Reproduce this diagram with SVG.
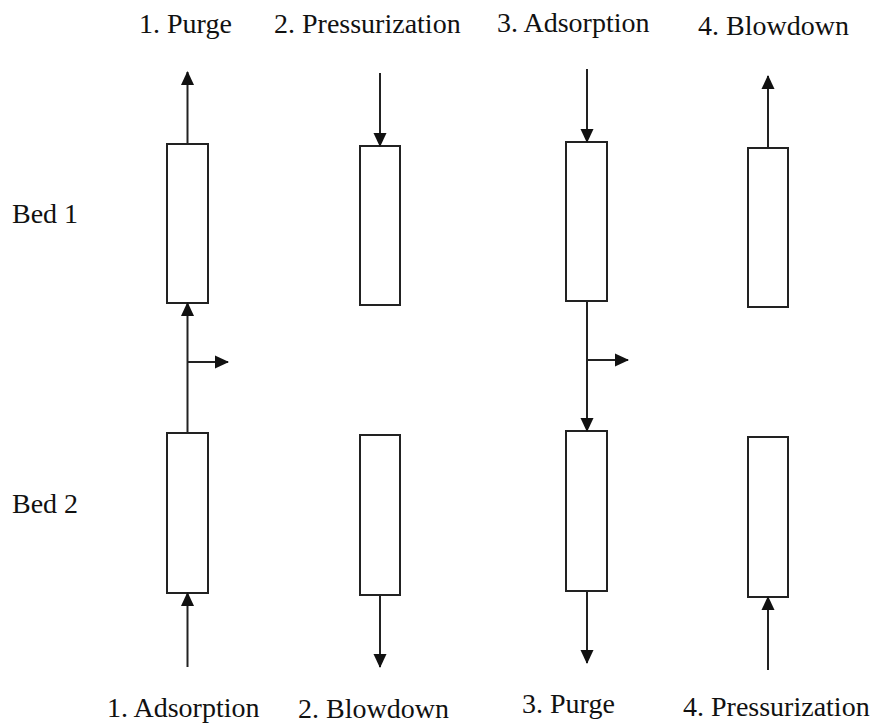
<svg xmlns="http://www.w3.org/2000/svg" width="874" height="723" viewBox="0 0 874 723">
<style>
.bed{fill:#fff;stroke:#222;stroke-width:2}
.ln{stroke:#222;stroke-width:2;fill:none;marker-end:url(#ah)}
text{font-family:"Liberation Serif","Times New Roman",serif;font-size:28px;fill:#111}
</style>
<defs>
<marker id="ah" markerUnits="userSpaceOnUse" markerWidth="14" markerHeight="14" viewBox="0 0 14 14" refX="13" refY="7" orient="auto">
<path d="M0,0.5 L14,7 L0,13.5 Z" fill="#111"/>
</marker>
</defs>
<rect width="874" height="723" fill="#fff"/>
<g id="labels">
<text x="139" y="33">1. Purge</text>
<text x="274" y="33">2. Pressurization</text>
<text x="497" y="32">3. Adsorption</text>
<text x="698" y="35">4. Blowdown</text>
<text x="107" y="717">1. Adsorption</text>
<text x="298" y="718">2. Blowdown</text>
<text x="522" y="713">3. Purge</text>
<text x="683" y="716">4. Pressurization</text>
<text x="12" y="223">Bed 1</text>
<text x="12" y="513">Bed 2</text>
</g>
<g id="bed1-1"><rect class="bed" x="167" y="144" width="41" height="159"/></g>
<g id="bed1-2"><rect class="bed" x="360" y="146" width="40" height="159"/></g>
<g id="bed1-3"><rect class="bed" x="566" y="142" width="41" height="159"/></g>
<g id="bed1-4"><rect class="bed" x="748" y="148" width="40" height="159"/></g>
<g id="bed2-1"><rect class="bed" x="167" y="433" width="41" height="160"/></g>
<g id="bed2-2"><rect class="bed" x="360" y="435" width="40" height="160"/></g>
<g id="bed2-3"><rect class="bed" x="566" y="431" width="41" height="160"/></g>
<g id="bed2-4"><rect class="bed" x="748" y="437" width="40" height="160"/></g>
<g id="connectors">
<line class="ln" x1="187.5" y1="144" x2="187.5" y2="72"/>
<line class="ln" x1="380" y1="73" x2="380" y2="146"/>
<line class="ln" x1="587" y1="69" x2="587" y2="142"/>
<line class="ln" x1="768" y1="148" x2="768" y2="76"/>
<line class="ln" x1="187.5" y1="433" x2="187.5" y2="303"/>
<line class="ln" x1="187.5" y1="362" x2="228" y2="362"/>
<line class="ln" x1="587" y1="301" x2="587" y2="431"/>
<line class="ln" x1="587" y1="360" x2="628" y2="360"/>
<line class="ln" x1="187.5" y1="667" x2="187.5" y2="593"/>
<line class="ln" x1="380" y1="595" x2="380" y2="667"/>
<line class="ln" x1="587" y1="591" x2="587" y2="663"/>
<line class="ln" x1="768" y1="670" x2="768" y2="597"/>
</g>
</svg>
